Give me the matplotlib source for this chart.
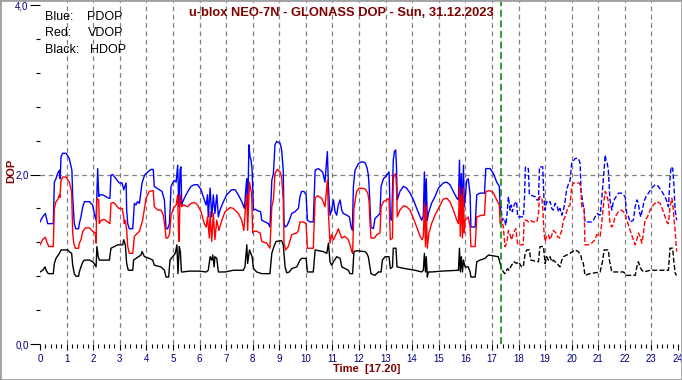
import numpy as np
import matplotlib
matplotlib.use("Agg")
import matplotlib.pyplot as plt
from matplotlib.ticker import MultipleLocator, FixedLocator, FuncFormatter
from matplotlib.patches import Rectangle

plt.rcParams['font.family'] = ['Liberation Sans', 'DejaVu Sans']
plt.rcParams['lines.scale_dashes'] = False

title = "u-blox NEO-7N - GLONASS DOP - Sun, 31.12.2023"
legend_names = ["Blue:", "Red:", "Black:"]
legend_series = ["PDOP", "VDOP", "HDOP"]
x_label = "Time  [17.20]"
y_label = "DOP"
now_time = 17 + 20 / 60.0
hours = list(range(0, 25))
y_major = [0.0, 2.0, 4.0]

pdop_points = [
    (0.00, 1.44), (0.10, 1.50), (0.20, 1.54), (0.29, 1.42), (0.50, 1.42), (0.54, 1.91), (0.60, 1.95),
    (0.66, 2.01), (0.73, 2.05), (0.76, 1.95), (0.79, 2.21), (0.85, 2.25), (0.98, 2.25), (1.10, 2.19),
    (1.20, 2.05), (1.23, 1.74), (1.29, 1.42), (1.35, 1.36), (1.45, 1.36), (1.48, 1.42), (1.54, 1.50),
    (1.61, 1.62), (1.67, 1.68), (1.86, 1.68), (1.98, 1.64), (2.04, 1.54), (2.11, 1.46), (2.17, 2.07),
    (2.21, 1.74), (2.23, 1.76), (2.36, 1.76), (2.48, 1.74), (2.58, 1.72), (2.63, 1.72), (2.67, 1.99),
    (2.73, 2.00), (2.86, 1.95), (2.98, 1.90), (3.09, 1.90), (3.15, 1.82), (3.24, 1.90), (3.26, 1.58),
    (3.30, 1.42), (3.36, 1.36), (3.49, 1.36), (3.55, 1.66), (3.61, 1.64), (3.67, 1.68), (3.74, 1.66),
    (3.84, 1.90), (3.93, 1.99), (4.05, 2.03), (4.18, 2.06), (4.26, 2.06), (4.30, 1.86), (4.39, 1.84),
    (4.49, 1.82), (4.59, 1.80), (4.68, 1.70), (4.72, 1.46), (4.74, 1.36), (4.80, 1.36), (4.87, 1.42),
    (4.93, 1.86), (4.99, 1.90), (5.05, 1.93), (5.12, 1.91), (5.18, 2.11), (5.22, 1.62), (5.24, 1.74),
    (5.27, 2.05), (5.30, 2.09), (5.33, 1.64), (5.37, 1.68), (5.43, 1.72), (5.56, 1.80), (5.68, 1.86),
    (5.81, 1.88), (5.93, 1.88), (6.06, 1.82), (6.18, 1.70), (6.25, 1.64), (6.30, 1.76), (6.33, 1.50),
    (6.40, 1.84), (6.46, 1.50), (6.52, 1.76), (6.58, 1.54), (6.65, 1.76), (6.71, 1.50), (6.77, 1.58),
    (6.90, 1.68), (7.02, 1.76), (7.21, 1.82), (7.34, 1.82), (7.46, 1.76), (7.59, 1.68), (7.69, 1.60),
    (7.75, 1.86), (7.78, 1.95), (7.81, 1.52), (7.86, 2.35), (7.90, 2.21), (7.94, 2.17), (7.98, 2.05),
    (8.03, 1.58), (8.09, 1.59), (8.21, 1.57), (8.30, 1.56), (8.34, 1.46), (8.47, 1.44), (8.59, 1.42),
    (8.65, 1.38), (8.72, 1.93), (8.78, 2.01), (8.84, 2.35), (8.90, 2.39), (9.03, 2.37), (9.09, 2.29),
    (9.15, 2.05), (9.18, 1.42), (9.22, 1.38), (9.30, 1.40), (9.38, 1.46), (9.47, 1.54), (9.59, 1.56),
    (9.72, 1.60), (9.78, 1.74), (9.84, 1.80), (9.93, 1.80), (10.01, 1.76), (10.06, 1.46), (10.16, 1.44),
    (10.28, 1.44), (10.35, 2.05), (10.47, 2.07), (10.63, 2.03), (10.72, 1.91), (10.81, 2.27), (10.85, 1.86),
    (10.91, 1.52), (10.97, 1.58), (11.04, 1.70), (11.10, 1.56), (11.16, 1.52), (11.22, 1.64), (11.29, 1.70),
    (11.35, 1.58), (11.41, 1.54), (11.54, 1.52), (11.64, 1.50), (11.70, 1.38), (11.75, 1.34), (11.79, 1.86),
    (11.85, 2.05), (11.98, 2.13), (12.10, 2.15), (12.23, 2.14), (12.30, 2.08), (12.35, 2.00), (12.38, 1.86),
    (12.41, 1.66), (12.45, 1.38), (12.54, 1.36), (12.60, 1.48), (12.67, 1.50), (12.79, 1.54), (12.83, 1.86),
    (12.92, 1.95), (13.04, 1.99), (13.13, 2.03), (13.18, 1.48), (13.23, 1.46), (13.29, 2.17), (13.33, 2.27),
    (13.38, 2.29), (13.41, 2.09), (13.44, 1.70), (13.54, 1.80), (13.67, 1.86), (13.79, 1.84), (13.92, 1.78),
    (14.05, 1.70), (14.17, 1.60), (14.30, 1.50), (14.36, 1.46), (14.42, 1.52), (14.46, 2.03), (14.50, 1.54),
    (14.53, 1.95), (14.57, 1.46), (14.61, 1.54), (14.73, 1.66), (14.86, 1.74), (14.99, 1.84), (15.17, 1.90),
    (15.30, 1.91), (15.42, 1.88), (15.55, 1.80), (15.68, 1.72), (15.74, 1.70), (15.78, 2.17), (15.81, 1.50),
    (15.85, 2.01), (15.89, 1.54), (15.93, 2.11), (15.96, 1.62), (15.99, 1.70), (16.05, 1.93), (16.11, 1.95),
    (16.18, 1.76), (16.21, 1.38), (16.37, 1.38), (16.43, 1.76), (16.55, 1.78), (16.72, 1.78), (16.77, 2.07),
    (16.93, 2.07), (17.06, 2.01), (17.18, 1.91), (17.28, 1.86), (17.31, 1.58),
    (17.34, 1.62), (17.39, 1.46), (17.47, 1.48), (17.52, 1.40), (17.56, 1.50), (17.62, 1.74), (17.68, 1.58),
    (17.72, 1.64), (17.77, 1.56), (17.81, 1.62), (17.87, 1.66), (17.93, 1.68), (17.97, 1.50), (18.06, 1.50),
    (18.18, 1.50), (18.22, 1.68), (18.26, 2.09), (18.37, 2.07), (18.41, 1.76), (18.50, 1.75), (18.62, 1.74),
    (18.69, 1.70), (18.75, 1.70), (18.79, 2.09), (18.91, 2.09), (18.96, 1.70), (19.00, 1.58), (19.06, 1.68),
    (19.12, 1.66), (19.19, 1.68), (19.25, 1.60), (19.31, 1.58), (19.38, 1.66), (19.46, 1.62), (19.50, 1.56),
    (19.56, 1.60), (19.63, 1.52), (19.69, 1.58), (19.75, 1.68), (19.81, 1.82), (19.88, 1.89), (19.94, 1.93),
    (20.00, 2.13), (20.13, 2.19), (20.25, 2.19), (20.32, 2.13), (20.35, 1.82), (20.42, 1.66), (20.47, 1.58),
    (20.50, 1.44), (20.63, 1.44), (20.75, 1.44), (20.82, 1.46), (20.88, 1.50), (20.97, 1.54), (21.07, 1.52),
    (21.11, 1.64), (21.17, 1.86), (21.22, 2.05), (21.26, 2.23), (21.29, 2.17), (21.34, 2.13), (21.38, 2.05),
    (21.44, 1.70), (21.51, 1.58), (21.57, 1.68), (21.63, 1.72), (21.76, 1.78), (21.88, 1.78), (22.01, 1.74),
    (22.07, 1.54), (22.14, 1.50), (22.20, 1.44), (22.32, 1.46), (22.39, 1.62), (22.45, 1.70), (22.51, 1.66),
    (22.55, 1.56), (22.60, 1.50), (22.67, 1.60), (22.72, 1.68), (22.80, 1.74), (22.89, 1.78), (23.01, 1.84),
    (23.14, 1.88), (23.26, 1.86), (23.39, 1.80), (23.51, 1.74), (23.58, 1.68), (23.64, 1.62), (23.70, 1.95),
    (23.74, 2.09), (23.80, 2.07), (23.85, 1.86), (23.89, 1.58), (23.95, 1.46),
]

vdop_points = [
    (0.00, 1.17), (0.10, 1.23), (0.20, 1.26), (0.25, 1.21), (0.33, 1.15), (0.50, 1.15), (0.54, 1.60),
    (0.60, 1.68), (0.66, 1.70), (0.73, 1.76), (0.75, 1.73), (0.79, 1.93), (0.85, 1.97), (0.98, 1.97),
    (1.10, 1.91), (1.19, 1.80), (1.23, 1.31), (1.27, 1.19), (1.33, 1.13), (1.45, 1.13), (1.48, 1.19),
    (1.54, 1.23), (1.61, 1.33), (1.71, 1.37), (1.86, 1.37), (1.98, 1.33), (2.08, 1.31), (2.11, 1.19),
    (2.14, 1.72), (2.21, 1.70), (2.23, 1.42), (2.30, 1.46), (2.42, 1.47), (2.55, 1.44), (2.63, 1.42),
    (2.67, 1.66), (2.76, 1.67), (2.86, 1.64), (2.96, 1.60), (3.09, 1.60), (3.15, 1.50), (3.17, 1.42),
    (3.21, 1.46), (3.26, 1.35), (3.30, 1.15), (3.36, 1.07), (3.49, 1.07), (3.55, 1.27), (3.61, 1.29),
    (3.74, 1.33), (3.86, 1.46), (3.99, 1.72), (4.11, 1.80), (4.26, 1.81), (4.30, 1.62), (4.43, 1.58),
    (4.55, 1.58), (4.64, 1.52), (4.70, 1.38), (4.74, 1.25), (4.80, 1.25), (4.87, 1.29), (4.93, 1.52),
    (5.02, 1.60), (5.12, 1.64), (5.18, 1.76), (5.22, 1.21), (5.24, 1.31), (5.27, 1.76), (5.29, 1.70),
    (5.33, 1.62), (5.41, 1.64), (5.56, 1.62), (5.68, 1.66), (5.81, 1.67), (5.93, 1.64), (6.06, 1.56),
    (6.18, 1.42), (6.25, 1.38), (6.30, 1.50), (6.37, 1.25), (6.40, 1.56), (6.46, 1.21), (6.52, 1.54),
    (6.58, 1.23), (6.65, 1.46), (6.73, 1.34), (6.84, 1.46), (6.96, 1.56), (7.15, 1.61), (7.27, 1.60),
    (7.46, 1.54), (7.59, 1.46), (7.67, 1.34), (7.74, 1.66), (7.78, 1.76), (7.81, 1.34), (7.88, 1.91),
    (7.93, 1.82), (7.96, 1.78), (8.00, 1.31), (8.05, 1.33), (8.15, 1.33), (8.28, 1.31), (8.34, 1.21),
    (8.53, 1.19), (8.65, 1.13), (8.72, 1.62), (8.78, 1.70), (8.84, 2.01), (8.93, 2.06), (9.03, 2.03),
    (9.09, 1.97), (9.15, 1.70), (9.18, 1.19), (9.24, 1.11), (9.34, 1.15), (9.47, 1.29), (9.66, 1.31),
    (9.72, 1.34), (9.78, 1.44), (9.91, 1.44), (10.01, 1.42), (10.06, 1.13), (10.28, 1.13), (10.35, 1.72),
    (10.43, 1.75), (10.60, 1.72), (10.72, 1.62), (10.81, 1.93), (10.85, 1.54), (10.91, 1.19), (10.97, 1.29),
    (11.04, 1.23), (11.16, 1.31), (11.22, 1.36), (11.35, 1.25), (11.47, 1.27), (11.60, 1.23), (11.66, 1.17),
    (11.73, 1.09), (11.76, 1.07), (11.81, 1.60), (11.91, 1.80), (12.01, 1.84), (12.23, 1.83), (12.33, 1.78),
    (12.38, 1.68), (12.41, 1.46), (12.45, 1.25), (12.58, 1.25), (12.67, 1.29), (12.79, 1.31), (12.83, 1.62),
    (12.92, 1.68), (13.04, 1.70), (13.13, 1.72), (13.18, 1.23), (13.26, 1.25), (13.29, 1.95), (13.33, 1.99),
    (13.38, 2.01), (13.41, 1.86), (13.44, 1.50), (13.54, 1.58), (13.67, 1.63), (13.79, 1.62), (13.92, 1.58),
    (14.05, 1.48), (14.17, 1.38), (14.30, 1.27), (14.38, 1.23), (14.42, 1.27), (14.46, 1.66), (14.50, 1.15),
    (14.53, 1.62), (14.57, 1.13), (14.63, 1.31), (14.73, 1.42), (14.86, 1.52), (14.99, 1.60), (15.17, 1.71),
    (15.30, 1.72), (15.42, 1.68), (15.55, 1.58), (15.68, 1.46), (15.74, 1.42), (15.78, 1.86), (15.81, 1.27),
    (15.85, 1.76), (15.89, 1.25), (15.93, 1.84), (15.96, 1.31), (15.99, 1.46), (16.11, 1.50), (16.18, 1.38),
    (16.21, 1.15), (16.37, 1.15), (16.43, 1.50), (16.62, 1.52), (16.72, 1.52), (16.77, 1.80), (16.93, 1.81),
    (17.06, 1.78), (17.18, 1.70), (17.28, 1.64), (17.31, 1.42),
    (17.37, 1.46), (17.43, 1.38), (17.49, 1.15), (17.56, 1.19), (17.62, 1.34), (17.68, 1.29), (17.74, 1.23),
    (17.81, 1.31), (17.90, 1.36), (17.97, 1.17), (18.06, 1.17), (18.18, 1.17), (18.21, 1.46), (18.31, 1.46),
    (18.37, 1.44), (18.43, 1.46), (18.56, 1.44), (18.69, 1.44), (18.75, 1.54), (18.79, 1.74), (18.87, 1.73),
    (18.91, 1.62), (18.96, 1.31), (19.00, 1.21), (19.06, 1.27), (19.12, 1.29), (19.19, 1.23), (19.31, 1.34),
    (19.41, 1.31), (19.46, 1.27), (19.54, 1.25), (19.59, 1.31), (19.63, 1.34), (19.69, 1.46), (19.75, 1.50),
    (19.81, 1.56), (19.88, 1.62), (19.94, 1.64), (20.00, 1.86), (20.07, 1.90), (20.29, 1.90), (20.34, 1.86),
    (20.38, 1.62), (20.47, 1.60), (20.50, 1.17), (20.63, 1.17), (20.75, 1.19), (20.88, 1.23), (20.94, 1.29),
    (21.07, 1.27), (21.13, 1.42), (21.19, 1.62), (21.26, 1.80), (21.32, 1.76), (21.38, 1.68), (21.44, 1.42),
    (21.51, 1.38), (21.57, 1.42), (21.63, 1.50), (21.76, 1.56), (21.88, 1.58), (22.01, 1.54), (22.07, 1.46),
    (22.14, 1.40), (22.20, 1.34), (22.32, 1.23), (22.39, 1.17), (22.45, 1.23), (22.51, 1.31), (22.57, 1.27),
    (22.64, 1.19), (22.70, 1.31), (22.76, 1.46), (22.85, 1.50), (22.95, 1.58), (23.07, 1.64), (23.20, 1.68),
    (23.33, 1.66), (23.45, 1.56), (23.58, 1.44), (23.64, 1.42), (23.70, 1.62), (23.77, 1.72), (23.80, 1.66),
    (23.89, 1.34), (23.95, 1.09),
]

hdop_points = [
    (0.00, 0.85), (0.10, 0.87), (0.19, 0.91), (0.23, 0.87), (0.31, 0.83), (0.50, 0.83), (0.54, 0.95),
    (0.60, 1.01), (0.73, 1.07), (0.79, 1.11), (1.04, 1.11), (1.10, 1.09), (1.19, 1.07), (1.23, 0.93),
    (1.29, 0.83), (1.35, 0.80), (1.45, 0.80), (1.48, 0.85), (1.54, 0.91), (1.61, 0.97), (1.67, 0.99),
    (1.86, 0.99), (1.98, 0.97), (2.04, 0.95), (2.11, 0.91), (2.14, 1.15), (2.19, 1.03), (2.23, 0.99),
    (2.42, 0.99), (2.61, 0.99), (2.67, 1.13), (2.80, 1.15), (2.92, 1.17), (3.11, 1.17), (3.15, 1.23),
    (3.21, 1.17), (3.26, 0.95), (3.32, 0.87), (3.49, 0.87), (3.52, 0.99), (3.61, 1.01), (3.80, 1.05),
    (3.84, 1.09), (3.93, 1.03), (4.11, 1.01), (4.24, 0.99), (4.30, 0.93), (4.55, 0.91), (4.68, 0.87),
    (4.74, 0.79), (4.84, 0.79), (4.89, 0.99), (4.99, 1.03), (5.09, 1.07), (5.15, 1.17), (5.19, 0.83),
    (5.24, 1.15), (5.28, 1.09), (5.32, 0.85), (5.37, 0.85), (5.62, 0.86), (5.99, 0.86), (6.25, 0.85),
    (6.33, 0.87), (6.40, 1.03), (6.46, 0.99), (6.50, 1.05), (6.55, 0.91), (6.58, 1.03), (6.65, 1.01),
    (6.71, 0.85), (6.96, 0.85), (7.27, 0.87), (7.65, 0.87), (7.71, 0.91), (7.78, 1.17), (7.81, 0.95),
    (7.88, 1.11), (7.93, 1.07), (7.98, 1.03), (8.03, 0.89), (8.15, 0.85), (8.34, 0.83), (8.65, 0.83),
    (8.72, 1.07), (8.80, 1.15), (8.88, 1.21), (9.09, 1.22), (9.15, 1.17), (9.22, 0.91), (9.28, 0.84),
    (9.38, 0.85), (9.47, 0.89), (9.66, 0.91), (9.78, 0.99), (9.84, 1.01), (10.01, 1.01), (10.06, 0.85),
    (10.28, 0.85), (10.35, 1.11), (10.66, 1.09), (10.79, 1.07), (10.85, 1.19), (10.91, 0.97), (10.97, 0.93),
    (11.04, 0.97), (11.16, 1.03), (11.29, 1.01), (11.35, 0.91), (11.60, 0.87), (11.66, 0.83), (11.76, 0.83),
    (11.81, 1.09), (11.91, 1.10), (12.23, 1.09), (12.29, 1.07), (12.35, 1.03), (12.45, 0.83), (12.60, 0.81),
    (12.73, 0.85), (12.83, 0.85), (12.88, 0.99), (12.98, 1.03), (13.13, 1.03), (13.18, 0.89), (13.26, 0.91),
    (13.29, 1.13), (13.39, 1.13), (13.43, 0.91), (13.73, 0.89), (14.11, 0.87), (14.36, 0.85), (14.42, 0.87),
    (14.46, 1.07), (14.50, 0.85), (14.53, 1.03), (14.57, 0.79), (14.61, 0.85), (14.73, 0.85), (15.11, 0.86),
    (15.74, 0.87), (15.78, 1.13), (15.81, 0.85), (15.85, 1.03), (15.89, 0.85), (15.93, 0.99), (15.99, 0.91),
    (16.11, 0.91), (16.18, 0.85), (16.21, 0.79), (16.37, 0.79), (16.43, 0.97), (16.55, 0.99), (16.74, 1.01),
    (16.87, 1.05), (17.06, 1.04), (17.24, 1.03), (17.31, 0.95),
    (17.37, 0.89), (17.43, 0.85), (17.49, 0.83), (17.59, 0.89), (17.64, 0.87), (17.74, 0.93), (17.83, 0.97),
    (17.93, 0.95), (18.00, 0.97), (18.12, 0.91), (18.18, 0.91), (18.25, 1.07), (18.31, 1.11), (18.41, 1.11),
    (18.46, 0.99), (18.75, 0.97), (18.81, 1.15), (18.94, 1.15), (19.00, 0.95), (19.06, 1.03), (19.12, 0.99),
    (19.19, 1.03), (19.25, 0.97), (19.31, 0.99), (19.44, 0.95), (19.56, 0.91), (19.63, 0.99), (19.69, 1.03),
    (19.94, 1.07), (20.13, 1.11), (20.25, 1.09), (20.34, 1.05), (20.38, 0.99), (20.44, 0.95), (20.50, 0.81),
    (20.69, 0.83), (21.07, 0.85), (21.17, 0.99), (21.22, 1.11), (21.38, 1.11), (21.42, 0.99), (21.51, 0.85),
    (21.95, 0.85), (22.07, 0.81), (22.39, 0.81), (22.45, 0.91), (22.51, 0.97), (22.57, 0.91), (22.64, 0.87),
    (22.72, 0.85), (22.95, 0.87), (23.64, 0.87), (23.70, 1.13), (23.80, 1.13), (23.85, 0.95), (23.90, 0.83),
    (23.95, 0.81),
]

W, H = 682, 380
fig = plt.figure(figsize=(W / 100, H / 100), dpi=100)
px_per_unit = 84.75
ax = fig.add_axes([40 / W, (H - 344) / H, 638 / W, 344 / H])
ax.set_xlim(0, 24)
ax.set_ylim(0, 344 / px_per_unit)
for s in ax.spines.values():
    s.set_visible(False)
ax.patch.set_alpha(0)

grid_kw = dict(color='#808080', lw=0.9, linestyle=(0, (3.4, 2.6)), zorder=1)
for h in hours[1:-1]:
    ax.axvline(h, **grid_kw)
ax.axhline(2.0, **grid_kw)

def split(points):
    t = np.array([p[0] for p in points])
    v = np.array([p[1] for p in points])
    i = int((t <= now_time).sum())
    return t[:i], v[:i], t[i - 1:], v[i - 1:]

for pts, col in [(pdop_points, '#0000ff'), (vdop_points, '#ff0000'), (hdop_points, '#000000')]:
    ts, vs, td, vd = split(pts)
    ax.plot(ts, vs, color=col, lw=1.0, zorder=3)
    ax.plot(td, vd, color=col, lw=1.0, linestyle=(0, (3.6, 1.6)), zorder=3)

ax.axvline(now_time, color='#008000', lw=1.1, linestyle=(0, (5.0, 2.6)), zorder=4)

ax.xaxis.set_major_locator(FixedLocator(hours))
ax.xaxis.set_minor_locator(MultipleLocator(0.2))
ax.set_xticklabels([str(h) for h in hours])
ax.tick_params(axis='x', which='major', length=4.5, width=0.8, pad=2.5,
               labelsize=7, labelcolor='#000080', color='black')
ax.tick_params(axis='x', which='minor', length=2.6, width=0.8, color='black')

ax.yaxis.set_major_locator(FixedLocator(y_major))
ax.yaxis.set_minor_locator(MultipleLocator(0.4))
ax.yaxis.set_major_formatter(FuncFormatter(lambda v, p: f"{v:.1f}".replace('.', ',')))
ax.tick_params(axis='y', which='major', length=7.2, width=0.8, pad=1,
               labelsize=7, labelcolor='#000080', color='black')
ax.tick_params(axis='y', which='minor', length=3.0, width=0.8, color='black')

dark_red = '#800000'
fig.text(341 / W, 1 - 13 / H, title, ha='center', va='center', fontsize=9.3,
         fontweight='bold', color=dark_red)
leg_y = [17.5, 33.5, 50]
leg_x2 = [87, 88, 90]
for name, ser, y, x2 in zip(legend_names, legend_series, leg_y, leg_x2):
    fig.text(45 / W, 1 - y / H, name, ha='left', va='center', fontsize=9, color='black')
    fig.text(x2 / W, 1 - y / H, ser, ha='left', va='center', fontsize=9, color='black')

fig.text(11 / W, 1 - 171 / H, y_label, rotation=90, ha='center', va='center',
         fontsize=8, fontweight='bold', color=dark_red)
fig.text(367 / W, 1 - 369 / H, x_label, ha='center', va='center',
         fontsize=8, fontweight='bold', color=dark_red)

fig.patches.append(Rectangle((0, 0), 1, 1, transform=fig.transFigure, fill=False,
                             edgecolor='#a0a0a0', lw=2.0, zorder=10))

fig.savefig('out.png', dpi=100)
